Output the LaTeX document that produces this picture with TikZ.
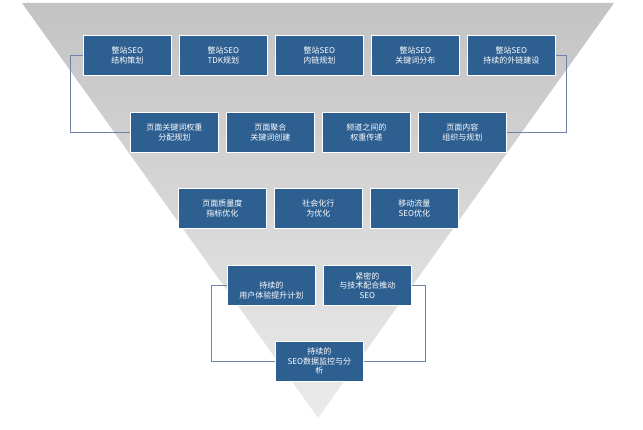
\documentclass[tikz,border=0pt]{standalone}
\usepackage{fontspec}
\setmainfont{Liberation Sans}
\newfontfamily\cjk{Noto Sans CJK SC}
\begin{document}
\begin{tikzpicture}[x=1pt,y=-1pt,
  bx/.style={draw=white,line width=0.6pt,fill={rgb,255:red,46;green,95;blue,145},text=white,
    minimum width=88pt,minimum height=40pt,inner sep=1pt,font=\cjk\fontsize{8}{9.5}\selectfont,
    align=center,text width=84pt,anchor=north west},
  ln/.style={draw={rgb,255:red,110;green,130;blue,170},line width=0.6pt}]
\useasboundingbox (0,0) rectangle (643,430);
\shade[top color={rgb,255:red,195;green,195;blue,195},bottom color={rgb,255:red,235;green,235;blue,235}]
  (22,3) -- (614,3) -- (318,418) -- cycle;
\node[bx] (a1) at (83,35) {整站SEO\\结构策划};
\node[bx] (a2) at (179,35) {整站SEO\\TDK规划};
\node[bx] (a3) at (275,35) {整站SEO\\内链规划};
\node[bx] (a4) at (371,35) {整站SEO\\关键词分布};
\node[bx] (a5) at (467,35) {整站SEO\\持续的外链建设};
\node[bx] (b1) at (130,112) {页面关键词权重\\分配规划};
\node[bx] (b2) at (226,112) {页面聚合\\关键词创建};
\node[bx] (b3) at (322,112) {频道之间的\\权重传递};
\node[bx] (b4) at (418,112) {页面内容\\组织与规划};
\node[bx] (c1) at (178,188) {页面质量度\\指标优化};
\node[bx] (c2) at (274,188) {社会化行\\为优化};
\node[bx] (c3) at (370,188) {移动流量\\SEO优化};
\node[bx,text depth=0pt] (d1) at (227,265) {持续的\\用户体验提升计划};
\node[bx,text width=80pt] (d2) at (323,265) {\raisebox{-7pt}{\parbox{80pt}{\centering 紧密的\\与技术配合推动\\SEO}}};
\node[bx,text width=80pt] (e1) at (275,341) {\raisebox{-7pt}{\parbox{80pt}{\centering 持续的\\SEO数据监控与分\\析}}};
\draw[ln] (a1.west) -- ++(-13,0) |- (b1.west);
\draw[ln] (a5.east) -- ++(11,0) |- (b4.east);
\draw[ln] (d1.west) -- ++(-16,0) |- (e1.west);
\draw[ln] (d2.east) -- ++(14,0) |- (e1.east);
\end{tikzpicture}
\end{document}
